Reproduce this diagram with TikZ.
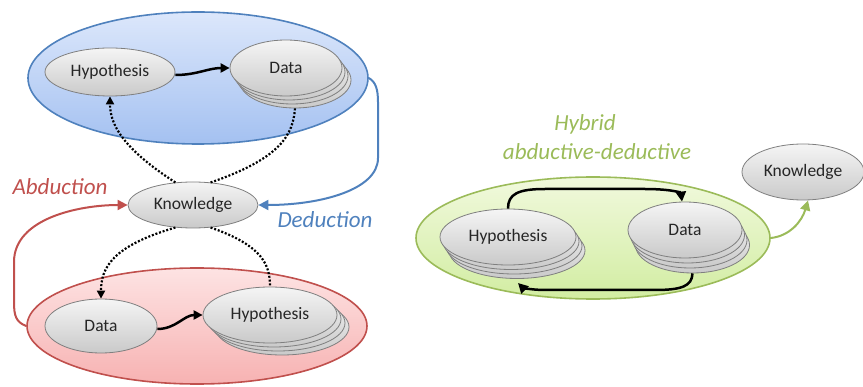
\documentclass[tikz,border=0pt]{standalone}
\usepackage{fontspec}
\setmainfont{Carlito}
\usetikzlibrary{shapes.geometric,arrows.meta}
\definecolor{nodeborder}{HTML}{7F7F7F}
\definecolor{blueline}{HTML}{4F81BD}
\definecolor{bluetop}{HTML}{DCE7FB}
\definecolor{bluebot}{HTML}{A4C1F1}
\definecolor{redline}{HTML}{C0504D}
\definecolor{redtop}{HTML}{FDE3E3}
\definecolor{redbot}{HTML}{F7B2B2}
\definecolor{greenline}{HTML}{9BBB59}
\definecolor{greentop}{HTML}{F1F9DD}
\definecolor{greenbot}{HTML}{D2EDA2}
\tikzset{
  grayell/.style={ellipse, draw=nodeborder, line width=0.8pt, top color=gray!8, bottom color=gray!42,
    inner sep=0pt, font=\fontsize{17.5}{19}\selectfont, text=black!85},
  bigell/.style={ellipse, inner sep=0pt, line width=1.6pt},
  flow/.style={line width=2.5pt, -{Triangle[length=9pt,width=9pt]}},
  dots/.style={line width=2.2pt, dash pattern=on 2pt off 1.8pt},
  label/.style={font=\fontsize{23}{25}\selectfont\itshape},
}
\begin{document}
\begin{tikzpicture}[x=1pt,y=1pt]
\useasboundingbox (0,0) rectangle (863,386);
% ---------- top (deduction) ----------
\node[bigell, draw=blueline, top color=bluetop, bottom color=bluebot, minimum width=340pt, minimum height=132pt] (blue) at (198,308) {};
\node[grayell, minimum width=130pt, minimum height=48pt] (hT) at (110,314) {Hypothesis};
\node[grayell, minimum width=112pt, minimum height=56pt] (dT3) at (295,306) {};
\node[grayell, minimum width=112pt, minimum height=56pt] (dT2) at (292,310) {};
\node[grayell, minimum width=112pt, minimum height=56pt] (dT1) at (289,314) {};
\node[grayell, minimum width=112pt, minimum height=56pt] (dT) at (286,318) {Data};
\draw[flow] ([yshift=-3pt]hT.east) to[out=0,in=180] (dT.west);
% ---------- bottom (abduction) ----------
\node[bigell, draw=redline, top color=redtop, bottom color=redbot, minimum width=340pt, minimum height=116pt] (red) at (197,60) {};
\node[grayell, minimum width=112pt, minimum height=54pt] (dB) at (101,60) {Data};
\node[grayell, minimum width=134pt, minimum height=56pt] (hB3) at (282,59) {};
\node[grayell, minimum width=134pt, minimum height=56pt] (hB2) at (278,63) {};
\node[grayell, minimum width=134pt, minimum height=56pt] (hB1) at (274,67) {};
\node[grayell, minimum width=134pt, minimum height=56pt] (hB) at (270,71) {Hypothesis};
\draw[flow] ([yshift=-3pt]dB.east) to[out=0,in=180] (hB.west);
% ---------- knowledge (left) ----------
\node[grayell, minimum width=130pt, minimum height=46pt] (kL) at (193,181) {Knowledge};
\draw[dots, -{Triangle[length=8pt,width=8pt]}] (kL.128) .. controls (122,238) and (110,262) .. (hT.south);
\draw[dots] (kL.52) .. controls (282,228) and (293,252) .. (dT3.south);
\draw[dots, -{Triangle[length=8pt,width=8pt]}] (kL.232) .. controls (112,140) and (101,118) .. (dB.north);
\draw[dots] (kL.308) .. controls (264,140) and (270,120) .. (hB.north);
% deduction / abduction loops
\draw[blueline, line width=2pt, -{Triangle[length=10pt,width=10pt]}]
  (blue.east) .. controls (376,304) and (378,296) .. (378,284)
  -- (378,228) .. controls (378,196) and (320,181) .. (kL.east);
\draw[redline, line width=2pt, -{Triangle[length=10pt,width=10pt]}]
  (red.west) .. controls (16,64) and (14,70) .. (14,84)
  -- (14,124) .. controls (14,168) and (80,181) .. (kL.west);
\node[label, text=redline] (abd) at (60,199) {Abduction};
\node[label, text=blueline] (ded) at (325,166) {Deduction};
% ---------- right (hybrid) ----------
\node[bigell, draw=greenline, top color=greentop, bottom color=greenbot, minimum width=354pt, minimum height=122pt] (green) at (593,148) {};
\node[grayell, minimum width=136pt, minimum height=56pt] (hR3) at (517,135.5) {};
\node[grayell, minimum width=136pt, minimum height=56pt] (hR2) at (514,140) {};
\node[grayell, minimum width=136pt, minimum height=56pt] (hR1) at (511,144.5) {};
\node[grayell, minimum width=136pt, minimum height=56pt] (hR) at (508,149) {Hypothesis};
\node[grayell, minimum width=114pt, minimum height=56pt] (dR3) at (692.5,141) {};
\node[grayell, minimum width=114pt, minimum height=56pt] (dR2) at (690,146) {};
\node[grayell, minimum width=114pt, minimum height=56pt] (dR1) at (687.5,151) {};
\node[grayell, minimum width=114pt, minimum height=56pt] (dR) at (685,156) {Data};
\node[grayell, minimum width=122pt, minimum height=56pt] (kR) at (803,214) {Knowledge};
\node[label, text=greenline] (hyb1) at (585,262) {Hybrid};
\node[label, text=greenline] (hyb2) at (597,234) {abductive-deductive};
\draw[line width=2.5pt, -{Triangle[length=10pt,width=10pt]}]
  (hR.north) .. controls (508,192) and (518,197) .. (545,197)
  -- (645,197) .. controls (672,197) and (681,193) .. ([xshift=-3pt]dR.north);
\draw[line width=2.5pt, -{Triangle[length=10pt,width=10pt]}]
  (dR3.south) .. controls (692,100) and (682,96) .. (655,96)
  -- (545,96) .. controls (530,96) and (522,99) .. (518,103);
\draw[greenline, line width=2pt, -{Triangle[length=10pt,width=10pt]}]
  (green.east) .. controls (790,150) and (802,165) .. ([xshift=5pt]kR.south);
\end{tikzpicture}
\end{document}
